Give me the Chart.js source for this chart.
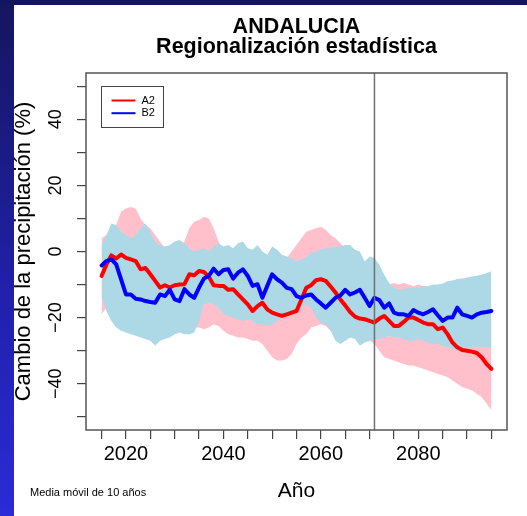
<!DOCTYPE html>
<html>
<head>
<meta charset="utf-8">
<script src="https://cdn.jsdelivr.net/npm/chart.js@4"></script>
<style>
  html, body { margin: 0; padding: 0; }
  body {
    width: 527px; height: 516px; overflow: hidden; position: relative;
    background: linear-gradient(to bottom, #15155e 0%, #2020a8 55%, #2b2bd8 100%);
  }
  #panel { position: absolute; left: 14px; top: 5px; width: 513px; height: 511px; background: #fff; }
</style>
</head>
<body>
<div id="panel"><canvas id="precipChart" width="513" height="511"></canvas></div>
<script>
// years of the 10-year moving average
const years = [
  2015, 2016, 2017, 2018, 2019, 2020, 2021, 2022, 2023, 2024,
  2025, 2026, 2027, 2028, 2029, 2030, 2031, 2032, 2033, 2034,
  2035, 2036, 2037, 2038, 2039, 2040, 2041, 2042, 2043, 2044,
  2045, 2046, 2047, 2048, 2049, 2050, 2051, 2052, 2053, 2054,
  2055, 2056, 2057, 2058, 2059, 2060, 2061, 2062, 2063, 2064,
  2065, 2066, 2067, 2068, 2069, 2070, 2071, 2072, 2073, 2074,
  2075, 2076, 2077, 2078, 2079, 2080, 2081, 2082, 2083, 2084,
  2085, 2086, 2087, 2088, 2089, 2090, 2091, 2092, 2093, 2094,
  2095
];

// scenario A2 (red line) - mean change (%)
const a2Mean = [
  -7.4, -3.9, -1.2, -2.1, -0.9, -1.9, -2.4, -2.9, -5.4, -5.0,
  -6.9, -8.9, -10.9, -10.2, -10.9, -10.2, -10.0, -9.9, -6.9, -7.2,
  -5.9, -6.2, -7.6, -10.2, -10.4, -10.4, -11.6, -11.4, -13.0, -14.5,
  -16.0, -18.0, -16.5, -15.5, -17.5, -18.5, -19.0, -19.5, -19.0, -18.5,
  -18.0, -14.5, -11.0, -10.2, -8.7, -8.4, -8.9, -10.6, -12.4, -14.5,
  -16.3, -18.3, -19.7, -20.3, -20.5, -21.0, -21.5, -20.3, -19.5, -21.0,
  -22.5, -22.5, -21.3, -20.0, -20.0, -20.7, -21.5, -22.0, -22.0, -23.5,
  -23.0, -25.0, -27.5, -29.0, -29.8, -30.0, -30.3, -30.7, -32.0, -34.0,
  -35.5
];
// scenario A2 spread (pink band)
const a2Max = [
  4, 5, 6, 8, 12, 13, 13.5, 13, 10, 8,
  7, 5, 3, 1, -1, -2, -1, 3, 7, 9,
  9.5, 10.5, 10, 7, 3, 0, -2, -3, -4, -4,
  -5, -6, -6, -5, -6, -7, -5, -3, -2, 0,
  2, 4, 6, 6.5, 7, 7.5, 6.5, 5, 4, 2.5,
  1, 0, -2, -4, -6, -8, -9, -10, -10, -10,
  -9.5, -10, -9.5, -10, -10.5, -10, -10.5, -10.5, -11, -11,
  -11, -11.5, -12, -13, -13.5, -14, -14.5, -15, -15.5, -16,
  -16
];
const a2Min = [
  -19, -17, -15, -16, -18, -19, -19, -20, -21, -22,
  -22, -22, -21, -20, -19, -19, -20, -21, -22, -23,
  -23, -23.5, -23, -22, -22.5, -24, -25, -25.5, -26, -26,
  -26.5, -27, -27, -28, -30, -32, -33, -33, -32.5, -31,
  -28, -26, -25, -23, -22.5, -22, -22.5, -24, -24, -24.5,
  -25, -25, -25.5, -26, -26.5, -27, -28, -30, -32, -32.5,
  -33, -33.5, -34, -34.5, -34.5, -35, -35.5, -36, -36.5, -37,
  -37.5, -38, -39, -40, -41, -41.5, -42, -43, -44, -46,
  -48
];

// scenario B2 (blue line) - mean change (%)
const b2Mean = [
  -4.2, -2.9, -2.4, -3.9, -8.4, -13.0, -13.0, -14.3, -14.5, -15.0,
  -15.3, -15.5, -13.0, -13.5, -11.6, -14.5, -15.0, -11.4, -13.0, -14.0,
  -10.9, -8.2, -7.4, -5.2, -6.9, -5.6, -5.4, -8.2, -6.4, -5.4,
  -7.4, -10.4, -9.9, -14.0, -10.4, -6.9, -8.4, -9.4, -11.0, -11.4,
  -13.5, -14.0, -13.3, -13.0, -14.5, -15.7, -17.0, -15.5, -14.0, -13.3,
  -11.6, -13.0, -12.4, -11.6, -14.0, -16.5, -14.0, -14.7, -17.0, -15.7,
  -18.5, -19.0, -19.0, -19.5, -17.7, -18.5, -19.0, -18.3, -17.5, -19.3,
  -21.0, -20.0, -20.0, -17.0, -19.0, -19.5, -20.0, -19.0, -18.5, -18.3,
  -18.0
];
// scenario B2 spread (light blue band)
const b2Max = [
  2, 5, 8.5, 8, 6, 5, 4, 5, 7, 8.5,
  6, 3, 2, 1.5, 2, 3, 3.5, 2.5, 1, 0,
  0.5, 1, 0, 1.5, 2.5, 1.5, 2, 1, 2.5, 3,
  1, 0.5, 2, 0, -1, 1.5, 0.5, -1, -1.5, -2,
  -3, -2.5, -1.5, -0.5, 0, 0.5, 1, 1, 1.5, 1.5,
  2, 2, 0.5, 0, -3, -1.5, -2, -4, -7, -9.5,
  -11, -11.5, -11.5, -11, -11, -11, -10.5, -10.5, -10, -10,
  -9.7, -9, -8.8, -8.3, -8.2, -7.9, -7.6, -7.3, -7, -6.5,
  -6
];
const b2Min = [
  -14, -18, -21, -23, -24, -24.5, -25, -25.5, -26, -26.5,
  -27, -28.5, -27, -26.5, -26, -25, -24.5, -25, -25, -24.5,
  -21, -16, -15.5, -16, -17, -19, -19.5, -20, -20.5, -21,
  -20.5, -21, -22, -22, -22.5, -22, -21, -20, -19, -18,
  -17.5, -17, -16, -17, -20, -21.5, -22, -24, -27, -28,
  -27, -26, -26.5, -28.5, -27.5, -27, -26.5, -26.5, -26, -25.5,
  -26, -26, -26.5, -27, -27, -26.5, -27, -27.5, -28, -28,
  -28.5, -29, -29.5, -30, -29.5, -29, -29, -29, -29, -29,
  -29
];

const xTickLabels = [2020, 2040, 2060, 2080];
const yTickLabels = [-40, -20, 0, 20, 40];
const markYear = 2071;           // vertical reference line
const legendNames = ['A2', 'B2'];
const legendColors = ['#ff0000', '#0000ff'];

const FONT = "'Liberation Sans', Arial, sans-serif";
Chart.defaults.font.family = FONT;
Chart.defaults.color = '#000';

function toPoints(values) {
    return values.map((v, i) => ({x: years[i], y: v}));
}

// titles, box, reference line, legend and note drawn on top of the chart
const decorations = {
    id: 'decorations',
    afterDatasetsDraw(chart) {
        const ctx = chart.ctx;
        const area = chart.chartArea;
        const xs = chart.scales.x;
        ctx.save();
        // vertical line
        const vx = xs.getPixelForValue(markYear);
        ctx.strokeStyle = '#707070';
        ctx.lineWidth = 1.5;
        ctx.beginPath();
        ctx.moveTo(vx, area.top);
        ctx.lineTo(vx, area.bottom);
        ctx.stroke();
        // box around the plot
        ctx.strokeStyle = '#555';
        ctx.lineWidth = 1.5;
        ctx.strokeRect(area.left, area.top, area.right - area.left, area.bottom - area.top);
        // legend
        const lx = area.left + 15.5, ly = area.top + 13.5;
        ctx.strokeStyle = '#444';
        ctx.lineWidth = 1;
        ctx.strokeRect(lx, ly, 62, 41);
        ctx.font = '11px ' + FONT;
        ctx.textBaseline = 'middle';
        ctx.fillStyle = '#000';
        legendNames.forEach((name, i) => {
            const y = ly + 14 + i * 12.7;
            ctx.strokeStyle = legendColors[i];
            ctx.lineWidth = 2;
            ctx.beginPath();
            ctx.moveTo(lx + 10, y);
            ctx.lineTo(lx + 34, y);
            ctx.stroke();
            ctx.fillText(name, lx + 40, y);
        });
        ctx.restore();
    },
    afterDraw(chart) {
        const ctx = chart.ctx;
        const area = chart.chartArea;
        const ys = chart.scales.y;
        const cx = (area.left + area.right) / 2;
        ctx.save();
        ctx.fillStyle = '#000';
        ctx.textAlign = 'center';
        ctx.textBaseline = 'alphabetic';
        ctx.font = 'bold 21.5px ' + FONT;
        ctx.fillText('ANDALUCIA', cx, 28);
        ctx.fillText('Regionalización estadística', cx, 48);
        // rotated y tick labels
        ctx.font = '18px ' + FONT;
        ctx.textBaseline = 'middle';
        yTickLabels.forEach(v => {
            ctx.save();
            ctx.translate(42, ys.getPixelForValue(v));
            ctx.rotate(-Math.PI / 2);
            ctx.fillText(v < 0 ? '\u2212' + Math.abs(v) : String(v), 0, 0);
            ctx.restore();
        });
        // note
        ctx.textAlign = 'left';
        ctx.textBaseline = 'alphabetic';
        ctx.font = '11px ' + FONT;
        ctx.fillText('Media móvil de 10 años', 16, 491);
        ctx.restore();
    }
};

const bandBase = {
    borderWidth: 0,
    borderColor: 'rgba(0,0,0,0)',
    pointRadius: 0,
    pointHoverRadius: 0,
    tension: 0
};
const lineBase = {
    borderWidth: 4,
    pointRadius: 0,
    pointHoverRadius: 0,
    fill: false,
    tension: 0,
    borderJoinStyle: 'round',
    borderCapStyle: 'round'
};

new Chart(document.getElementById('precipChart'), {
    type: 'line',
    data: {
        datasets: [
            {...lineBase, label: 'B2', data: toPoints(b2Mean), borderColor: '#0000ff', order: 0},
            {...lineBase, label: 'A2', data: toPoints(a2Mean), borderColor: '#ff0000', order: 1},
            {...bandBase, label: 'B2 max', data: toPoints(b2Max), backgroundColor: '#add8e6', fill: '+1', order: 2},
            {...bandBase, label: 'B2 min', data: toPoints(b2Min), fill: false, order: 3},
            {...bandBase, label: 'A2 max', data: toPoints(a2Max), backgroundColor: '#ffc0cb', fill: '+1', order: 4},
            {...bandBase, label: 'A2 min', data: toPoints(a2Min), fill: false, order: 5}
        ]
    },
    options: {
        responsive: false,
        animation: false,
        events: [],
        layout: {padding: {top: 68, right: 20, left: 0, bottom: 0}},
        plugins: {
            legend: {display: false},
            tooltip: {enabled: false},
            title: {display: false}
        },
        scales: {
            x: {
                type: 'linear',
                min: 2011.8,
                max: 2098.2,
                afterFit: s => { s.height = 86; },
                border: {display: false},
                grid: {drawOnChartArea: false, drawTicks: true, tickLength: 9, color: '#444', lineWidth: 1.2},
                ticks: {
                    stepSize: 5,
                    includeBounds: false,
                    autoSkip: false,
                    maxRotation: 0,
                    padding: 3,
                    font: {size: 20},
                    color: '#000',
                    callback: v => xTickLabels.includes(v) ? String(v) : ''
                },
                title: {display: true, text: 'Año', font: {size: 21}, color: '#000', padding: {top: 0, bottom: 12}}
            },
            y: {
                min: -54,
                max: 54,
                afterFit: s => { s.width = 72; },
                border: {display: false},
                grid: {drawOnChartArea: false, drawTicks: true, tickLength: 9, color: '#444', lineWidth: 1.2},
                ticks: {
                    stepSize: 10,
                    includeBounds: false,
                    display: true,
                    color: 'rgba(0,0,0,0)',
                    font: {size: 1},
                    callback: () => ''
                },
                title: {display: true, text: 'Cambio de la precipitación (%)', font: {size: 22}, color: '#000', padding: {top: -3, bottom: 0}}
            }
        }
    },
    plugins: [decorations]
});
</script>
</body>
</html>
